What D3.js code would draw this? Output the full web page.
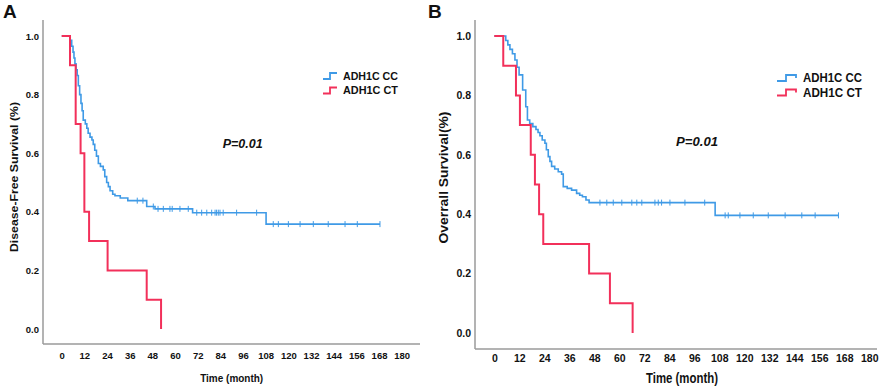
<!DOCTYPE html>
<html>
<head>
<meta charset="utf-8">
<script src="https://cdn.jsdelivr.net/npm/d3@7"></script>
<style>
  body { margin: 0; background: #fff; }
  text { font-family: "Liberation Sans", Arial, sans-serif; font-weight: bold; fill: #111; }
</style>
</head>
<body>
<div id="chart"></div>
<script>
// x tick labels (months) and y ticks
var xTicks = [0, 12, 24, 36, 48, 60, 72, 84, 96, 108, 120, 132, 144, 156, 168, 180];
var yTicks = [0, 0.2, 0.4, 0.6, 0.8, 1.0];
var groups = ["ADH1C CC", "ADH1C CT"];

// Panel A: disease-free survival, [time, survival after step]
var dfsCC = [[0,1.0],[4.5,0.985],[5.3,0.965],[6,0.945],[6.5,0.925],[7,0.905],[7.6,0.885],[8.2,0.865],[8.8,0.83],[9.5,0.8],[10.2,0.77],[10.8,0.745],[11.4,0.713],[12.5,0.7],[13.3,0.685],[14,0.668],[15,0.655],[16,0.645],[16.7,0.63],[17.5,0.61],[18.4,0.59],[19.4,0.565],[20.5,0.555],[22,0.543],[22.8,0.52],[23.8,0.5],[24.7,0.486],[25.6,0.472],[27,0.46],[28.2,0.455],[31,0.447],[35,0.438],[45,0.418],[49.4,0.41],[69.3,0.397],[108.2,0.358],[168.5,0.358]];
var dfsCT = [[0,1.0],[4.4,0.9],[7.4,0.7],[10,0.6],[12,0.4],[14.5,0.3],[24.3,0.2],[45,0.1],[52.6,0.0]];
var dfsCCcens = [40, 43, 48.5, 51, 53.8, 57.3, 58.5, 62.6, 67, 71.5, 74.1, 76.8, 79.4, 81.2, 82, 82.9, 83.8, 85.5, 92.6, 103.2, 112, 114.7, 120, 126.2, 133.2, 141.1, 150, 156.5, 168.5];

// Panel B: overall survival
var osCC = [[0,1.0],[5.5,0.985],[6.5,0.97],[7.5,0.955],[8.7,0.94],[9.9,0.919],[10.9,0.895],[11.9,0.869],[13.6,0.818],[15.1,0.762],[15.9,0.717],[17,0.705],[18.5,0.695],[20,0.685],[21,0.675],[21.9,0.664],[23,0.65],[24.3,0.639],[25,0.617],[25.9,0.594],[26.7,0.578],[27.5,0.561],[29,0.552],[30.7,0.543],[32.3,0.535],[33.1,0.493],[35,0.487],[37.1,0.481],[39.5,0.47],[41,0.464],[42.3,0.459],[44,0.448],[45.5,0.439],[106,0.396],[165.2,0.396]];
var osCT = [[0,1.0],[4.3,0.9],[10.4,0.8],[12.3,0.7],[17.5,0.6],[19.5,0.5],[21.5,0.4],[23.5,0.3],[45.5,0.2],[55.5,0.1],[66.4,0.0]];
var osCCcens = [50.7, 54, 57.1, 61.2, 66, 68.4, 70.8, 77.1, 78.7, 80.3, 84.3, 91.5, 101, 110.8, 112.3, 117.9, 124.3, 131.5, 139.6, 147.6, 154, 165.2];

var blue = "#3f9ae6", red = "#f2305a", axisGray = "#9a9a9a";

var svg = d3.select("#chart").append("svg")
  .attr("width", 892)
  .attr("height", 387);

function drawPanel(p) {
  var g = svg.append("g");
  var x = d3.scaleLinear().domain([0, 180]).range(p.xRange);
  var y = d3.scaleLinear().domain([0, 1]).range(p.yRange);

  // axis lines
  g.append("line").attr("x1", p.axisX).attr("x2", p.axisX).attr("y1", p.axisTop).attr("y2", p.axisY)
    .attr("stroke", axisGray).attr("stroke-width", 1.5);
  g.append("line").attr("x1", p.axisX).attr("x2", p.axisRight).attr("y1", p.axisY).attr("y2", p.axisY)
    .attr("stroke", axisGray).attr("stroke-width", 1.5);

  // tick labels
  var xa = g.append("g")
    .attr("transform", "translate(0," + p.xTickY + ")")
    .call(d3.axisBottom(x).tickValues(xTicks).tickSize(0).tickPadding(0));
  xa.select(".domain").remove();
  xa.selectAll("text").attr("font-size", p.tickFont).attr("font-family", p.tickFamily).attr("dy", "0.35em");

  var ya = g.append("g")
    .attr("transform", "translate(" + p.yTickX + ",0)")
    .call(d3.axisLeft(y).tickValues(yTicks).tickFormat(d3.format(".1f")).tickSize(0).tickPadding(0));
  ya.select(".domain").remove();
  ya.selectAll("text").attr("font-size", p.tickFont).attr("font-family", p.tickFamily);

  // survival curves
  var line = d3.line()
    .x(function(d) { return x(d[0]); })
    .y(function(d) { return y(d[1]); })
    .curve(d3.curveStepAfter);

  g.append("path").datum(p.cc).attr("d", line)
    .attr("fill", "none").attr("stroke", blue).attr("stroke-width", 1.6);
  g.append("path").datum(p.ct).attr("d", line)
    .attr("fill", "none").attr("stroke", red).attr("stroke-width", 2);

  // censor marks on CC curve
  function survAt(data, t) {
    var s = 1;
    data.forEach(function(d) { if (d[0] <= t) s = d[1]; });
    return s;
  }
  g.selectAll(".cens").data(p.cens).enter().append("line")
    .attr("x1", function(d) { return x(d); })
    .attr("x2", function(d) { return x(d); })
    .attr("y1", function(d) { return y(survAt(p.cc, d)) - 3; })
    .attr("y2", function(d) { return y(survAt(p.cc, d)) + 3; })
    .attr("stroke", blue).attr("stroke-width", 1);

  // legend
  var colors = [blue, red];
  groups.forEach(function(name, i) {
    var ly = p.legY + i * p.legGap;
    var lx = p.legX;
    var sym = p.legShape === "A"
      ? "M" + lx + "," + (ly + 3) + "h7v-6h7"
      : "M" + lx + "," + (ly + 3) + "h9v-6h10v3";
    g.append("path").attr("d", sym).attr("fill", "none")
      .attr("stroke", colors[i]).attr("stroke-width", 1.8);
    g.append("text").attr("x", p.legTextX).attr("y", ly).attr("dy", "0.35em")
      .attr("font-size", p.legFont).attr("textLength", p.legLen).attr("lengthAdjust", "spacingAndGlyphs")
      .text(name);
  });

  // P value
  g.append("text").attr("x", p.pX).attr("y", p.pY).attr("font-size", 13)
    .attr("font-style", "italic").attr("textLength", p.pLen).attr("lengthAdjust", "spacingAndGlyphs")
    .text("P=0.01");

  // titles
  g.append("text").attr("x", p.xTitleX).attr("y", p.xTitleY).attr("text-anchor", "middle")
    .attr("font-size", p.xTitleFont).attr("textLength", p.xTitleLen).attr("lengthAdjust", "spacingAndGlyphs")
    .text("Time (month)");
  g.append("text")
    .attr("transform", "translate(" + p.yTitleX + "," + p.yTitleY + ") rotate(-90)")
    .attr("text-anchor", "middle").attr("font-size", p.yTitleFont)
    .attr("textLength", p.yTitleLen).attr("lengthAdjust", "spacingAndGlyphs")
    .text(p.yTitle);

  // panel letter
  g.append("text").attr("x", p.letterX).attr("y", 18).attr("font-size", 19).text(p.letter);
}

drawPanel({
  letter: "A", letterX: 3,
  xRange: [61.7, 401.7], yRange: [329, 36],
  axisX: 43, axisY: 344, axisTop: 20, axisRight: 420,
  xTickY: 356, yTickX: 39, tickFont: 9.5, tickFamily: "Liberation Sans, Arial, sans-serif",
  cc: dfsCC, ct: dfsCT, cens: dfsCCcens,
  legX: 323, legTextX: 343, legY: 76, legGap: 14.5, legFont: 11, legLen: 55, legShape: "A",
  pX: 222.7, pY: 147.5, pLen: 40,
  xTitleX: 231.7, xTitleY: 381.5, xTitleFont: 11, xTitleLen: 63,
  yTitleX: 18, yTitleY: 177, yTitleFont: 11, yTitleLen: 150,
  yTitle: "Disease-Free Survival (%)"
});

drawPanel({
  letter: "B", letterX: 428,
  xRange: [494.3, 869.3], yRange: [333, 36],
  axisX: 475, axisY: 349, axisTop: 20, axisRight: 877,
  xTickY: 358, yTickX: 471, tickFont: 10.5, tickFamily: "Liberation Sans Narrow, Liberation Sans, Arial, sans-serif",
  cc: osCC, ct: osCT, cens: osCCcens,
  legX: 777, legTextX: 803, legY: 78, legGap: 14.5, legFont: 12, legLen: 59, legShape: "B",
  pX: 676, pY: 146, pLen: 42,
  xTitleX: 682, xTitleY: 383, xTitleFont: 14, xTitleLen: 72,
  yTitleX: 448, yTitleY: 177.5, yTitleFont: 12, yTitleLen: 132,
  yTitle: "Overrall Survival(%)"
});
</script>
</body>
</html>
